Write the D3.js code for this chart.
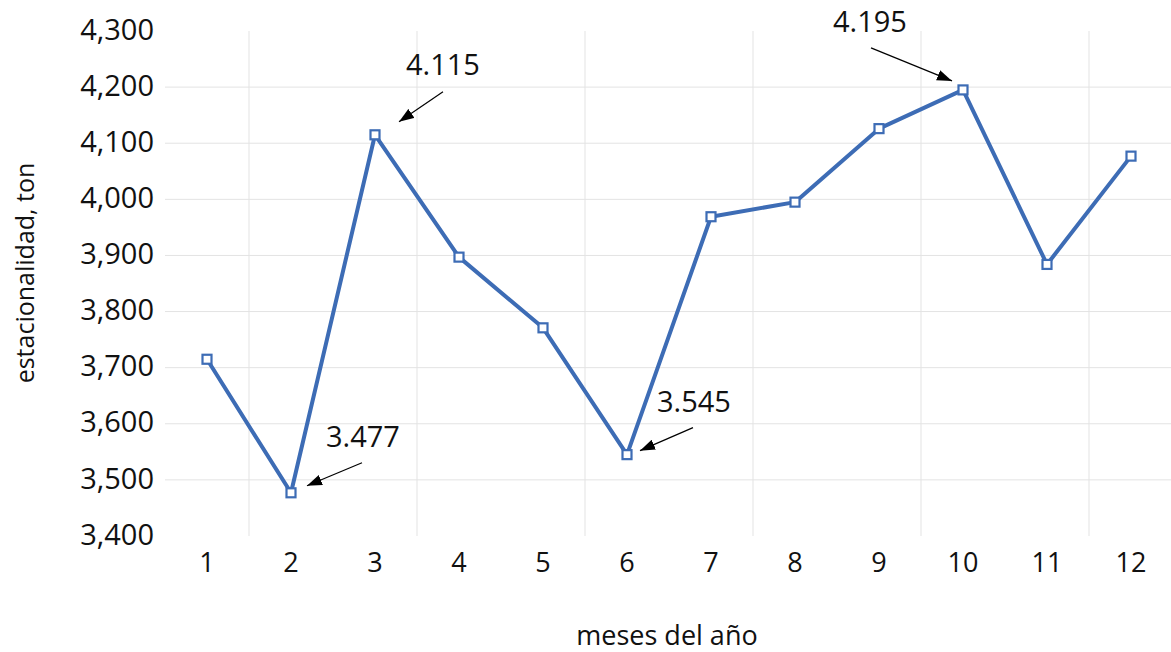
<!DOCTYPE html>
<html lang="es">

<head>
    <meta charset="UTF-8">
    <title>Estacionalidad</title>
    <script src="https://d3js.org/d3.v7.min.js"></script>
    <style>
        body {
            margin: 0;
            background: #fff;
        }

        text {
            font-family: "Open Sans", "Noto Sans", sans-serif;
            fill: #111;
        }
    </style>
</head>

<body>
    <svg width="1171" height="652"></svg>

    <script>
        // data
        const months = [1, 2, 3, 4, 5, 6, 7, 8, 9, 10, 11, 12];
        const values = [3715, 3477, 4115, 3897, 3771, 3545, 3969, 3995, 4126, 4195, 3884, 4077];
        const yTicks = [3400, 3500, 3600, 3700, 3800, 3900, 4000, 4100, 4200, 4300];
        const annotated = [2, 3, 6, 10];

        // arrow/label offsets from the point, in px
        const notePos = {
            2: { tip: [16, -7], tail: [71, -30], text: [35, -46] },
            3: { tip: [24, -13], tail: [68, -43], text: [31, -60] },
            6: { tip: [13, -4], tail: [66, -27], text: [30, -43] },
            10: { tip: [-11, -9], tail: [-92, -42], text: [-130, -58] }
        };

        const svg = d3.select("svg");
        const plotLeft = 165, plotRight = 1173, plotTop = 31, plotBottom = 536;
        const blue = "#3d6cb5";

        const x = d3.scaleBand().domain(months).range([plotLeft, plotRight]).padding(0);
        const y = d3.scaleLinear().domain([3400, 4300]).range([plotBottom, plotTop]);

        // horizontal grid (no line at 3400 / 4300, like the original)
        svg.append("g")
            .selectAll("line")
            .data(yTicks.filter(t => t > 3400 && t < 4300))
            .join("line")
            .attr("x1", plotLeft).attr("x2", plotRight)
            .attr("y1", d => y(d)).attr("y2", d => y(d))
            .attr("stroke", "#e3e3e3")
            .attr("stroke-width", 1);

        // vertical grid every 2 months
        svg.append("g")
            .selectAll("line")
            .data(months.filter(m => m % 2 === 1))
            .join("line")
            .attr("x1", d => x(d) + x.bandwidth()).attr("x2", d => x(d) + x.bandwidth())
            .attr("y1", plotTop).attr("y2", plotBottom)
            .attr("stroke", "#e3e3e3")
            .attr("stroke-width", 1);

        // y axis labels
        const yAxis = svg.append("g")
            .attr("transform", `translate(${plotLeft - 11},0)`)
            .call(d3.axisLeft(y).tickValues(yTicks).tickFormat(d3.format(",")).tickSize(0).tickPadding(0));
        yAxis.select(".domain").remove();
        yAxis.selectAll("text")
            .attr("font-size", 29)
            .attr("font-family", "Open Sans")
            .attr("fill", "#111")
            .attr("dy", "0.28em");

        // x axis labels
        const xAxis = svg.append("g")
            .attr("transform", `translate(0,${plotBottom})`)
            .call(d3.axisBottom(x).tickSize(0).tickPadding(0));
        xAxis.select(".domain").remove();
        xAxis.selectAll("text")
            .attr("font-size", 27)
            .attr("font-family", "Open Sans")
            .attr("fill", "#111")
            .attr("y", 36)
            .attr("dy", 0);

        // axis titles
        svg.append("text")
            .attr("x", 667)
            .attr("y", 645)
            .attr("text-anchor", "middle")
            .attr("font-size", 27)
            .text("meses del año");

        svg.append("text")
            .attr("transform", "translate(34,273) rotate(-90)")
            .attr("text-anchor", "middle")
            .attr("font-size", 25)
            .text("estacionalidad, ton");

        // line
        const pts = months.map((m, i) => ({ m, v: values[i] }));
        const line = d3.line()
            .x(d => x(d.m) + x.bandwidth() / 2)
            .y(d => y(d.v));

        svg.append("path")
            .datum(pts)
            .attr("d", line)
            .attr("fill", "none")
            .attr("stroke", blue)
            .attr("stroke-width", 4)
            .attr("stroke-linejoin", "round");

        // square markers
        svg.append("g")
            .selectAll("rect")
            .data(pts)
            .join("rect")
            .attr("x", d => x(d.m) + x.bandwidth() / 2 - 4.5)
            .attr("y", d => y(d.v) - 4.5)
            .attr("width", 9)
            .attr("height", 9)
            .attr("fill", "#fff")
            .attr("stroke", blue)
            .attr("stroke-width", 2.2);

        // arrow head
        svg.append("defs").append("marker")
            .attr("id", "arrow")
            .attr("markerUnits", "userSpaceOnUse")
            .attr("viewBox", "0 0 14 10")
            .attr("refX", 14)
            .attr("refY", 5)
            .attr("markerWidth", 15)
            .attr("markerHeight", 11)
            .attr("orient", "auto")
            .append("path")
            .attr("d", "M0,0 L14,5 L0,10 Z")
            .attr("fill", "#000");

        // annotations
        const fmtDot = d3.formatLocale({ decimal: ",", thousands: ".", grouping: [3], currency: ["", ""] }).format(",");
        const notes = svg.append("g");
        annotated.forEach(m => {
            const v = values[months.indexOf(m)];
            const px = x(m) + x.bandwidth() / 2, py = y(v);
            const p = notePos[m];
            notes.append("line")
                .attr("x1", px + p.tail[0]).attr("y1", py + p.tail[1])
                .attr("x2", px + p.tip[0]).attr("y2", py + p.tip[1])
                .attr("stroke", "#000")
                .attr("stroke-width", 1.2)
                .attr("marker-end", "url(#arrow)");
            notes.append("text")
                .attr("x", px + p.text[0])
                .attr("y", py + p.text[1])
                .attr("font-size", 29)
                .text(fmtDot(v));
        });
    </script>
</body>

</html>
